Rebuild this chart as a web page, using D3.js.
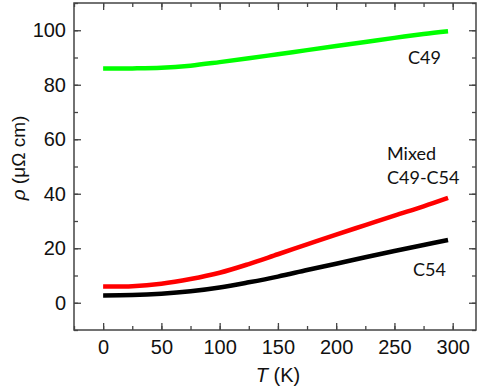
<!DOCTYPE html>
<html>
<head>
<meta charset="utf-8">
<script src="https://cdn.jsdelivr.net/npm/d3@7"></script>
<style>
  body { margin: 0; background: #fff; }
  svg { display: block; }
</style>
</head>
<body>
<script>
// Chart dimension
const width = 479;
const height = 392;
const plotLeft = 74, plotRight = 476, plotTop = 3, plotBottom = 330;

// Data
const temps = [0, 25, 50, 75, 100, 125, 150, 175, 200, 225, 250, 275, 296];
const rhoC49 = [86, 86, 86.2, 87, 88.3, 89.7, 91.2, 92.7, 94.2, 95.7, 97.2, 98.6, 99.6];
const rhoMixed = [6, 6.1, 7, 8.7, 11, 14.2, 17.8, 21.4, 25, 28.5, 32, 35.4, 38.5];
const rhoC54 = [2.7, 2.8, 3.3, 4.2, 5.6, 7.5, 9.6, 12, 14.3, 16.7, 19, 21.2, 23];
const xTicks = [0, 50, 100, 150, 200, 250, 300];
const yTicks = [0, 20, 40, 60, 80, 100];

const svg = d3.select("body")
    .append("svg")
    .attr("width", width)
    .attr("height", height);

// Scales
const x = d3.scaleLinear().domain([-25, 320]).range([plotLeft, plotRight]);
const y = d3.scaleLinear().domain([-10, 110]).range([plotBottom, plotTop]);

const axisColor = "#444";
const tickFont = "'Liberation Sans', Arial, sans-serif";

// Axes: major ticks inward, minor ticks inward and shorter, on all four sides
function styleAxis(g) {
    g.attr("font-family", null).attr("font-size", null);
    g.select(".domain").remove();
    g.selectAll("line").attr("stroke", axisColor).attr("stroke-width", 1.3);
    g.selectAll("text").attr("fill", "#111").style("font-family", tickFont).style("font-size", "20px");
}

const xMinor = d3.range(-25, 321, 25);
const yMinor = d3.range(-10, 111, 10);

svg.append("g").attr("transform", `translate(0,${plotBottom})`)
    .call(d3.axisBottom(x).tickValues(xTicks).tickSizeInner(-7).tickSizeOuter(0).tickPadding(10))
    .call(styleAxis);
svg.append("g").attr("transform", `translate(0,${plotBottom})`)
    .call(d3.axisBottom(x).tickValues(xMinor).tickSizeInner(-4).tickSizeOuter(0).tickFormat(""))
    .call(styleAxis);
svg.append("g").attr("transform", `translate(0,${plotTop})`)
    .call(d3.axisTop(x).tickValues(xTicks).tickSizeInner(-7).tickSizeOuter(0).tickFormat(""))
    .call(styleAxis);
svg.append("g").attr("transform", `translate(0,${plotTop})`)
    .call(d3.axisTop(x).tickValues(xMinor).tickSizeInner(-4).tickSizeOuter(0).tickFormat(""))
    .call(styleAxis);

svg.append("g").attr("transform", `translate(${plotLeft},0)`)
    .call(d3.axisLeft(y).tickValues(yTicks).tickSizeInner(-7).tickSizeOuter(0).tickPadding(8))
    .call(styleAxis);
svg.append("g").attr("transform", `translate(${plotLeft},0)`)
    .call(d3.axisLeft(y).tickValues(yMinor).tickSizeInner(-4).tickSizeOuter(0).tickFormat(""))
    .call(styleAxis);
svg.append("g").attr("transform", `translate(${plotRight},0)`)
    .call(d3.axisRight(y).tickValues(yTicks).tickSizeInner(-7).tickSizeOuter(0).tickFormat(""))
    .call(styleAxis);
svg.append("g").attr("transform", `translate(${plotRight},0)`)
    .call(d3.axisRight(y).tickValues(yMinor).tickSizeInner(-4).tickSizeOuter(0).tickFormat(""))
    .call(styleAxis);

// Frame
svg.append("rect")
    .attr("x", plotLeft).attr("y", plotTop)
    .attr("width", plotRight - plotLeft).attr("height", plotBottom - plotTop)
    .attr("fill", "none")
    .attr("stroke", axisColor)
    .attr("stroke-width", 1.5);

// Curves
const line = d3.line()
    .x((d, i) => x(temps[i]))
    .y(d => y(d))
    .curve(d3.curveCatmullRom.alpha(0.5));

const series = [
    { values: rhoC49, color: "#00ff00" },
    { values: rhoMixed, color: "#ff0000" },
    { values: rhoC54, color: "#000000" }
];

svg.selectAll(".curve")
    .data(series)
    .enter()
    .append("path")
    .attr("class", "curve")
    .attr("d", d => line(d.values))
    .attr("fill", "none")
    .attr("stroke", d => d.color)
    .attr("stroke-width", 4.5);

// Curve labels
const labelFont = "Lato, 'Open Sans', sans-serif";
const labels = [
    { text: "C49", x: 408, y: 64 },
    { text: "Mixed", x: 387, y: 160 },
    { text: "C49-C54", x: 387, y: 184 },
    { text: "C54", x: 413, y: 276 }
];
svg.selectAll(".curve-label")
    .data(labels)
    .enter()
    .append("text")
    .attr("class", "curve-label")
    .attr("x", d => d.x)
    .attr("y", d => d.y)
    .style("font-family", labelFont)
    .style("font-size", "18px")
    .attr("fill", "#111")
    .text(d => d.text);

// X axis label
const xLabel = svg.append("text")
    .attr("x", 278)
    .attr("y", 382)
    .attr("text-anchor", "middle")
    .style("font-family", tickFont)
    .style("font-size", "20px")
    .attr("fill", "#111");
xLabel.append("tspan").style("font-style", "italic").text("T");
xLabel.append("tspan").text(" (K)");

// Y axis label
const yLabel = svg.append("text")
    .attr("transform", "rotate(-90)")
    .attr("x", -158)
    .attr("y", 25)
    .attr("text-anchor", "middle")
    .style("font-family", tickFont)
    .style("font-size", "19px")
    .attr("fill", "#111");
yLabel.append("tspan").style("font-style", "italic").text("ρ");
yLabel.append("tspan").text(" (μΩ cm)");
</script>
</body>
</html>
